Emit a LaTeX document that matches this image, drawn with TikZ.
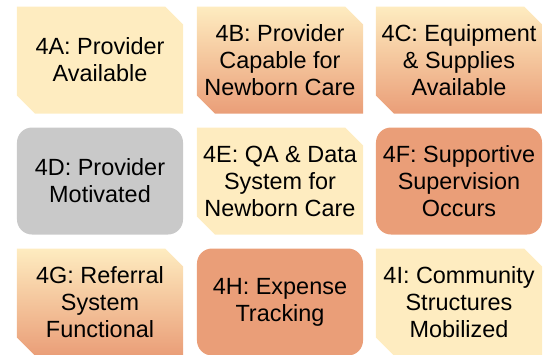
\documentclass[tikz,border=0pt]{standalone}
\usepackage{fontspec}
\setmainfont{Liberation Sans}

\definecolor{paleyellow}{RGB}{254,236,192}
\definecolor{salmon}{RGB}{234,158,120}
\definecolor{softgray}{RGB}{201,201,201}

\tikzset{
	box/.style={rectangle, minimum width=4.98cm, minimum height=3.21cm, inner sep=0pt, align=center,
		font=\fontsize{20}{23}\selectfont},
	% corners snipped at north east and south west
	snipbox/.style={box, path picture={
		\path[#1] (path picture bounding box.north west)
			-- ([xshift=-0.54cm]path picture bounding box.north east)
			-- ([yshift=-0.54cm]path picture bounding box.north east)
			-- (path picture bounding box.south east)
			-- ([xshift=0.54cm]path picture bounding box.south west)
			-- ([yshift=0.54cm]path picture bounding box.south west) -- cycle;}},
	roundbox/.style={box, rounded corners=0.45cm},
	yellowbox/.style={snipbox={fill=paleyellow}},
	fadebox/.style={snipbox={top color=paleyellow, bottom color=salmon}},
	orangebox/.style={roundbox, fill=salmon},
	graybox/.style={roundbox, fill=softgray}
}

\begin{document}
\begin{tikzpicture}[x=0.03cm, y=-0.03cm]
			%%%%% START %%%%%
			\clip (0, 0) rectangle (547, 354);
			
			% top row
			\node[yellowbox] (avail) at (100, 60) {4A: Provider\\Available};
			\node[fadebox] (capable) at (280, 60) {4B: Provider\\Capable for\\Newborn Care};
			\node[fadebox] (supplies) at (459, 60) {4C: Equipment\\\& Supplies\\Available};
			
			% middle row
			\node[graybox] (motiv) at (100, 181) {4D: Provider\\Motivated};
			\node[yellowbox] (qadata) at (280, 181) {4E: QA \& Data\\System for\\Newborn Care};
			\node[orangebox] (superv) at (459, 181) {4F: Supportive\\Supervision\\Occurs};
			
			% bottom row
			\node[fadebox] (referral) at (100, 302) {4G: Referral\\System\\Functional};
			\node[orangebox] (expense) at (280, 302) {4H: Expense\\Tracking};
			\node[yellowbox] (community) at (459, 302) {4I: Community\\Structures\\Mobilized};
			%%%%% END %%%%%
\end{tikzpicture}
\end{document}
